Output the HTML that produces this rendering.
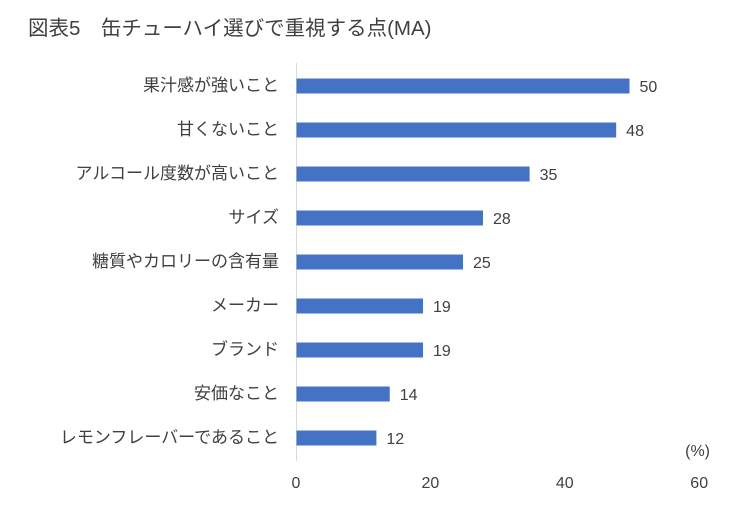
<!DOCTYPE html>
<html><head><meta charset="utf-8"><style>
body{margin:0;background:#fff;}
svg text{font-family:"Liberation Sans","Noto Sans CJK JP",sans-serif;fill:#404040;}
</style></head><body>
<svg width="750" height="500" viewBox="0 0 750 500">
<text x="28" y="35" font-size="20.5">図表5　缶チューハイ選びで重視する点(MA)</text>
<line x1="296.5" y1="63" x2="296.5" y2="461" stroke="#d9d9d9" stroke-width="1"/>
<g id="bars"></g>
<g id="ticks"></g>
<text x="710" y="456" font-size="16" text-anchor="end">(%)</text>
</svg>
<script>
const categories=["果汁感が強いこと","甘くないこと","アルコール度数が高いこと","サイズ","糖質やカロリーの含有量","メーカー","ブランド","安価なこと","レモンフレーバーであること"];
const values=[50,48,35,28,25,19,19,14,12];
const ticks=[0,20,40,60];
const NS="http://www.w3.org/2000/svg";
const x0=296.5,scale=6.66,top0=86,step=44,bh=15;
const xs=v=>x0+v*scale;
const bars=document.getElementById('bars');
categories.forEach((c,i)=>{
  const cy=top0+i*step;
  const r=document.createElementNS(NS,'rect');
  r.setAttribute('x',x0);r.setAttribute('y',cy-bh/2);
  r.setAttribute('width',xs(values[i])-x0);r.setAttribute('height',bh);
  r.setAttribute('fill','#4472c4');
  
  
  bars.appendChild(r);
  const l=document.createElementNS(NS,'text');
  l.setAttribute('x',279);l.setAttribute('y',cy+5);
  l.setAttribute('text-anchor','end');l.setAttribute('font-size','17');
  l.textContent=c;
  
  
  bars.appendChild(l);
  const v=document.createElementNS(NS,'text');
  v.setAttribute('x',xs(values[i])+10);v.setAttribute('y',cy+6);
  v.setAttribute('font-size','16');
  v.textContent=values[i];
  
  
  bars.appendChild(v);
});
const tg=document.getElementById('ticks');
ticks.forEach(t=>{
  const e=document.createElementNS(NS,'text');
  e.setAttribute('x',296+t*6.72);e.setAttribute('y',488);
  e.setAttribute('text-anchor','middle');e.setAttribute('font-size','16');
  e.textContent=t;
  
  
  tg.appendChild(e);
});
</script>
</body></html>
